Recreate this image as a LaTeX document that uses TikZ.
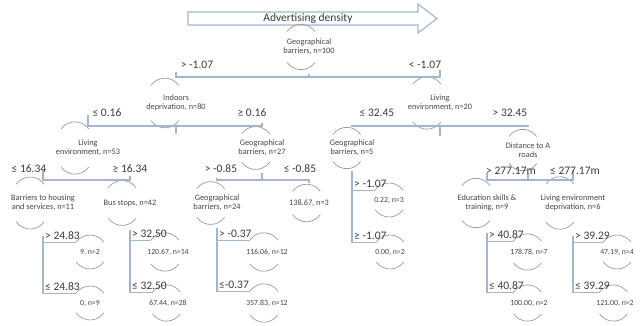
\documentclass[tikz,border=0pt]{standalone}
\usepackage{fontspec}
\setmainfont{Carlito}
\definecolor{edgec}{HTML}{A3B6CB}
\definecolor{arcc}{HTML}{9A9A9A}
\definecolor{txtc}{HTML}{3A3A3A}
\definecolor{ntxtc}{HTML}{454545}
\tikzset{
  tnode/.style={circle, minimum size=34pt, inner sep=0pt, outer sep=0pt, align=center,
    font=\fontsize{8.3}{9}\selectfont, text=ntxtc},
  leaf/.style={tnode, font=\fontsize{7.8}{9}\selectfont},
  edge/.style={draw=edgec, line width=1.1pt},
  arcline/.style={draw=arcc, line width=0.7pt},
  cond/.style={font=\fontsize{11.5}{12}\selectfont, text=txtc, inner sep=0pt},
  lcond/.style={cond, anchor=base west},
  arrowline/.style={draw=edgec, line width=1.1pt, line join=miter}
}
\begin{document}
\begin{tikzpicture}[x=1pt,y=1pt]
\useasboundingbox (0,0) rectangle (640,-325);
\clip (0,0) rectangle (640,-325);
% arrow
\draw[arrowline] (188,-12) -- (418,-12) -- (418,-4) -- (437,-18.5) -- (418,-33) -- (418,-25) -- (188,-25) -- cycle;
\node[cond, text=txtc] (title) at (308,-18.5) {Advertising density};
% internal nodes
\node[tnode] (R) at (309,-47) {Geographical\\barriers, n=100};
\node[tnode] (A) at (176,-103) {Indoors\\deprivation, n=80};
\node[tnode] (B) at (440,-103) {Living\\environment, n=20};
\node[tnode] (C) at (88,-148) {Living\\environment, n=53};
\node[tnode] (D) at (262,-148) {Geographical\\barriers, n=27};
\node[tnode] (E) at (352,-148) {Geographical\\barriers, n=5};
\node[tnode] (F) at (528,-150) {Distance to A\\roads};
\node[tnode] (G) at (43,-203) {Barriers to housing\\and services, n=11};
\node[tnode] (H) at (130,-203) {Bus stops, n=42};
\node[tnode] (I) at (217,-203) {Geographical\\barriers, n=24};
\node[tnode] (J) at (309,-203) {138.67, n=3};
\node[tnode] (K) at (487,-203) {Education skills \&\\training, n=9};
\node[tnode] (L) at (573,-203) {Living environment\\deprivation, n=6};
% leaves
\node[leaf] (G1) at (90,-252) {9, n=2};
\node[leaf] (G2) at (90,-303) {0, n=9};
\node[leaf] (H1) at (168,-252) {120.67, n=14};
\node[leaf] (H2) at (168,-303) {67.44, n=28};
\node[leaf] (I1) at (267,-252) {116.06, n=12};
\node[leaf] (I2) at (267,-303) {357.83, n=12};
\node[leaf] (E1) at (389,-200) {0.22, n=3};
\node[leaf] (E2) at (390,-252) {0.00, n=2};
\node[leaf] (K1) at (529,-252) {178.78, n=7};
\node[leaf] (K2) at (529,-303) {100.00, n=2};
\node[leaf] (L1) at (617,-252) {47.19, n=4};
\node[leaf] (L2) at (615,-303) {121.00, n=2};
% arcs
\foreach \n in {R,A,B,C,D,E,F,G,H,I,J,K,L,G1,G2,H1,H2,I1,I2,E1,E2,K1,K2,L1,L2}{
  \draw[arcline] (\n.145) arc[start angle=145, end angle=35, radius=17pt];
  \draw[arcline] (\n.215) arc[start angle=215, end angle=325, radius=17pt];
}
% bars
\coordinate (b1) at (0,-77);
\coordinate (b2) at (0,-126);
\coordinate (b3) at (0,-180);
\draw[edge] (R.south) -- (R.south |- b1);
\draw[edge] (A.north) -- (A.north |- b1) -- (B.north |- b1) -- (B.north);
\draw[edge] (A.south) -- (A.south |- b2);
\draw[edge] (C.north) -- (C.north |- b2) -- (D.north |- b2) -- (D.north);
\draw[edge] (B.south) -- (B.south |- b2);
\draw[edge] (E.north) -- (E.north |- b2) -- (F.north |- b2) -- (F.north);
\draw[edge] (C.south) -- (C.south |- b3);
\draw[edge] (G.north) -- (G.north |- b3) -- (H.north |- b3) -- (H.north);
\draw[edge] (D.south) -- (D.south |- b3);
\draw[edge] (I.north) -- (I.north |- b3) -- (J.north |- b3) -- (J.north);
\draw[edge] (F.south) -- (F.south |- b3);
\draw[edge] (K.north) -- (K.north |- b3) -- (L.north |- b3) -- (L.north);
% leaf connectors
\draw[edge] (G.south) |- (G1.145);
\draw[edge] (G.south) |- (G2.145);
\draw[edge] (H.south) |- (H1.145);
\draw[edge] (H.south) |- (H2.145);
\draw[edge] (I.south) |- (I1.145);
\draw[edge] (I.south) |- (I2.145);
\draw[edge] (E.south) |- (E1.145);
\draw[edge] (E.south) |- (E2.145);
\draw[edge] (K.south) |- (K1.145);
\draw[edge] (K.south) |- (K2.145);
\draw[edge] (L.south) |- (L1.145);
\draw[edge] (L.south) |- (L2.145);
% condition labels
\node[cond] (c1) at (197,-65) {> -1.07};
\node[cond] (c2) at (425,-65) {< -1.07};
\node[cond] (c3) at (107,-113) {≤ 0.16};
\node[cond] (c4) at (252,-113) {≥ 0.16};
\node[cond] (c5) at (377,-113) {≤ 32.45};
\node[cond] (c6) at (510,-113) {> 32.45};
\node[cond] (c7) at (29,-169) {≤ 16.34};
\node[cond] (c8) at (130,-169) {≥ 16.34};
\node[cond] (c9) at (221,-169) {> -0.85};
\node[cond] (c10) at (300,-169) {≤ -0.85};
\node[cond] (c11) at (511,-171) {> 277.17m};
\node[cond] (c12) at (575,-171) {≤ 277.17m};
% leaf labels
\node[lcond] (l1) at ([xshift=2pt,yshift=2.5pt]G.south |- G1.145) {> 24.83};
\node[lcond] (l2) at ([xshift=2pt,yshift=2.5pt]G.south |- G2.145) {≤ 24.83};
\node[lcond] (l3) at ([xshift=2pt,yshift=2.5pt]H.south |- H1.145) {> 32.50};
\node[lcond] (l4) at ([xshift=2pt,yshift=2.5pt]H.south |- H2.145) {≤ 32.50};
\node[lcond] (l5) at ([xshift=2pt,yshift=2.5pt]I.south |- I1.145) {> -0.37};
\node[lcond] (l6) at ([xshift=2pt,yshift=2.5pt]I.south |- I2.145) {≤-0.37};
\node[lcond] (l7) at ([xshift=2pt,yshift=2.5pt]E.south |- E1.145) {> -1.07};
\node[lcond] (l8) at ([xshift=2pt,yshift=2.5pt]E.south |- E2.145) {≥ -1.07};
\node[lcond] (l9) at ([xshift=2pt,yshift=2.5pt]K.south |- K1.145) {> 40.87};
\node[lcond] (l10) at ([xshift=2pt,yshift=2.5pt]K.south |- K2.145) {≤ 40.87};
\node[lcond] (l11) at ([xshift=2pt,yshift=2.5pt]L.south |- L1.145) {> 39.29};
\node[lcond] (l12) at ([xshift=2pt,yshift=2.5pt]L.south |- L2.145) {≤ 39.29};
\end{tikzpicture}
\end{document}
